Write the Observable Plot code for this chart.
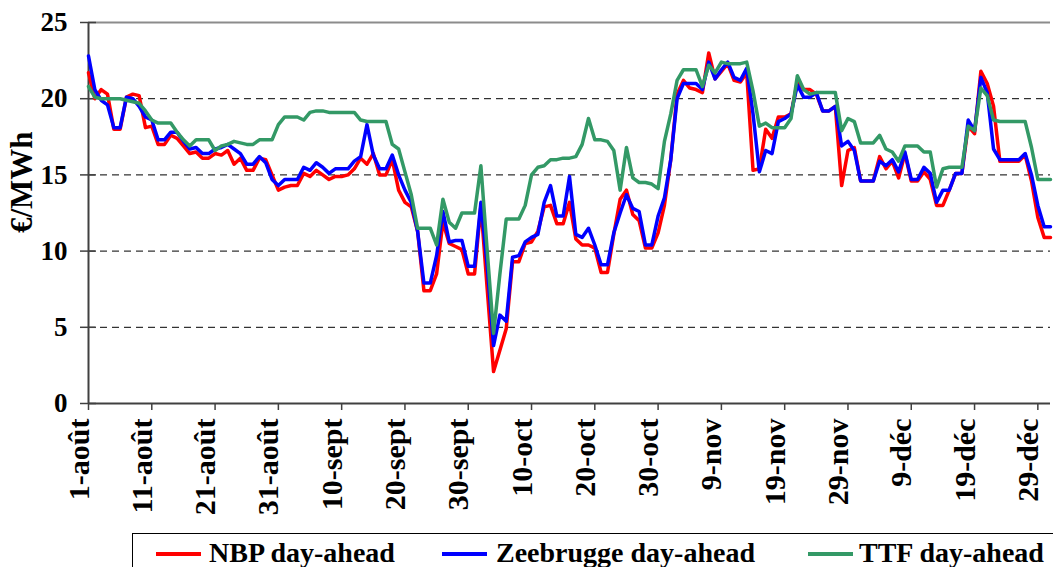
<!DOCTYPE html>
<html>
<head>
<meta charset="utf-8">
<script src="https://cdn.jsdelivr.net/npm/d3@7"></script>
<script src="https://cdn.jsdelivr.net/npm/@observablehq/plot@0.6"></script>
<style>
  html, body { margin: 0; padding: 0; background: #fff; overflow: hidden; }
  #wrap { position: relative; width: 1053px; height: 567px; overflow: hidden; }
  #legend { position: absolute; left: 132px; top: 533px; width: 960px; height: 70px;
            border: 1px solid #000; box-sizing: border-box;
            font-family: "Liberation Serif", "Times New Roman", serif; font-weight: bold; font-size: 28px; }
  #legend .sw { position: absolute; top: 18px; width: 45px; height: 4px; }
  #legend .lb { position: absolute; top: 5px; line-height: 28px; white-space: nowrap; color: #000; }
</style>
</head>
<body>
<div id="wrap">
  <div id="chart"></div>
  <div id="legend"></div>
</div>
<script>
// Series values (€/MWh), daily from 1 Aug 2006
const nbp = [
  21.7, 20.0, 20.6, 20.3, 18.0, 18.0, 20.1, 20.3, 20.2, 18.1,
  18.2, 17.0, 17.0, 17.6, 17.4, 16.9, 16.4, 16.5, 16.1, 16.1,
  16.4, 16.3, 16.6, 15.7, 16.1, 15.3, 15.3, 16.1, 16.0, 15.0,
  14.0, 14.2, 14.3, 14.3, 15.1, 14.9, 15.3, 15.0, 14.7, 14.9,
  14.9, 15.0, 15.4, 16.1, 15.7, 16.4, 15.0, 15.0, 16.0, 14.0,
  13.2, 12.9, 11.3, 7.4, 7.4, 8.5, 11.9, 10.5, 10.3, 10.1,
  8.5, 8.5, 13.0, 7.5, 2.1, 3.5, 4.9, 9.3, 9.3, 10.5,
  10.6, 11.3, 12.9, 13.0, 11.8, 11.8, 13.2, 10.8, 10.4, 10.4,
  10.2, 8.6, 8.6, 11.1, 13.4, 14.0, 12.4, 12.0, 10.2, 10.2,
  11.2, 13.0, 16.0, 20.3, 21.2, 20.7, 20.6, 20.4, 23.0, 21.3,
  21.8, 22.3, 21.2, 21.1, 21.7, 15.3, 15.4, 18.0, 17.4, 18.8,
  18.8, 19.0, 21.1, 20.6, 20.6, 20.3, 19.2, 19.2, 19.5, 14.3,
  16.6, 16.8, 14.6, 14.6, 14.6, 16.2, 15.4, 15.9, 14.8, 16.4,
  14.6, 14.6, 15.2, 14.7, 13.0, 13.0, 14.0, 15.1, 15.1, 18.2,
  17.7, 21.8, 21.0, 19.5, 15.9, 15.9, 15.9, 15.9, 16.3, 14.6,
  12.2, 10.9, 10.9
];
const zeebrugge = [
  22.8, 20.6, 19.9, 19.6, 18.1, 18.1, 20.1, 20.0, 19.5, 18.8,
  18.6, 17.3, 17.3, 17.8, 17.8, 17.2, 16.7, 16.8, 16.4, 16.4,
  16.7, 16.8, 17.0, 16.7, 16.4, 15.7, 15.7, 16.2, 15.8, 14.7,
  14.3, 14.7, 14.7, 14.7, 15.5, 15.3, 15.8, 15.5, 15.1, 15.4,
  15.4, 15.4, 15.9, 16.2, 18.3, 16.3, 15.4, 15.4, 16.3, 15.0,
  14.0, 13.2, 11.3, 7.9, 7.9, 9.7, 12.6, 10.6, 10.7, 10.7,
  9.0, 9.0, 13.2, 9.0, 3.8, 5.8, 5.4, 9.6, 9.7, 10.6,
  10.9, 11.1, 13.2, 14.3, 12.3, 12.3, 14.9, 11.1, 10.9, 11.5,
  10.4, 9.1, 9.1, 11.2, 12.5, 13.7, 12.8, 12.6, 10.4, 10.4,
  12.3, 13.5, 16.0, 20.0, 21.0, 21.0, 21.0, 20.6, 22.4, 21.3,
  21.9, 22.4, 21.4, 21.2, 22.0, 19.0, 15.2, 16.6, 16.4, 18.5,
  18.7, 19.0, 20.9, 20.1, 20.1, 20.4, 19.2, 19.2, 19.5, 16.9,
  17.2, 16.6, 14.6, 14.6, 14.6, 15.9, 15.6, 16.0, 15.2, 16.5,
  14.7, 14.7, 15.5, 15.1, 13.2, 14.0, 14.0, 15.1, 15.1, 18.6,
  17.9, 21.4, 20.4, 16.7, 16.0, 16.0, 16.0, 16.0, 16.4, 15.0,
  13.0, 11.6, 11.6
];
const ttf = [
  20.8, 20.1, 20.0, 20.0, 20.0, 20.0, 19.9, 19.8, 19.7, 19.2,
  18.6, 18.4, 18.4, 18.4, 17.8, 17.3, 16.9, 17.3, 17.3, 17.3,
  16.6, 16.9, 17.0, 17.2, 17.1, 17.0, 17.0, 17.3, 17.3, 17.3,
  18.3, 18.8, 18.8, 18.8, 18.6, 19.1, 19.2, 19.2, 19.1, 19.1,
  19.1, 19.1, 19.1, 18.6, 18.5, 18.5, 18.5, 18.5, 17.0, 16.7,
  15.2, 13.7, 11.5, 11.5, 11.5, 10.4, 13.4, 11.9, 11.5, 12.5,
  12.5, 12.5, 15.6, 10.0, 4.6, 8.5, 12.1, 12.1, 12.1, 13.0,
  15.0, 15.5, 15.6, 16.0, 16.0, 16.1, 16.1, 16.2, 17.0, 18.7,
  17.3, 17.3, 17.2, 16.6, 14.0, 16.8, 14.8, 14.5, 14.5, 14.4,
  14.1, 17.2, 19.0, 21.2, 21.9, 21.9, 21.9, 20.8, 22.2, 21.7,
  22.4, 22.3, 22.3, 22.3, 22.4, 20.5, 18.2, 18.4, 18.1, 18.1,
  18.1, 18.7, 21.5, 20.6, 20.3, 20.4, 20.4, 20.4, 20.4, 17.9,
  18.7, 18.5, 17.1, 17.1, 17.1, 17.6, 16.7, 16.5, 15.9, 16.9,
  16.9, 16.9, 16.5, 16.5, 14.2, 15.4, 15.5, 15.5, 15.5, 18.2,
  17.9, 20.7, 20.2, 18.6, 18.5, 18.5, 18.5, 18.5, 18.5, 16.8,
  14.7, 14.7, 14.7
];
const seriesNames = ["NBP day-ahead", "Zeebrugge day-ahead", "TTF day-ahead"];
const seriesColors = ["#ff0000", "#0000ff", "#339966"];
const xTickLabels = ["1-août","11-août","21-août","31-août","10-sept","20-sept","30-sept","10-oct",
                     "20-oct","30-oct","9-nov","19-nov","29-nov","9-déc","19-déc","29-déc"];
const xTickDayOffsets = [0,10,20,30,40,50,60,70,80,90,100,110,120,130,140,150];
const yTicks = [0, 5, 10, 15, 20, 25];
const yGrid = [5, 10, 15, 20];
const yLabel = "€/MWh";

const start = Date.UTC(2006, 7, 1);
const DAY = 864e5;
const dateAt = (i) => new Date(start + i * DAY);
const mk = (arr) => arr.map((v, i) => ({date: dateAt(i), value: v}));
const dNbp = mk(nbp), dZee = mk(zeebrugge), dTtf = mk(ttf);
const xTicks = xTickDayOffsets.map((o, i) => ({date: dateAt(o), label: xTickLabels[i]}));
const domain = [dateAt(0), dateAt(nbp.length - 1)];

const font = "Liberation Serif";
const chart = Plot.plot({
  width: 1053,
  height: 530,
  marginLeft: 88,
  marginRight: 3,
  marginTop: 22,
  marginBottom: 127,
  style: {background: "white", overflow: "visible"},
  x: {type: "utc", domain, axis: null},
  y: {domain: [0, 25], axis: null},
  marks: [
    Plot.ruleY(yGrid, {stroke: "black", strokeWidth: 1, strokeDasharray: "7,5"}),
    Plot.ruleY([25], {stroke: "#8c8c8c", strokeWidth: 2}),
    // y ticks (cross)
    Plot.axisY({ticks: yTicks, tickSize: 16, dx: 8, stroke: "#404040", strokeWidth: 1.5, tickFormat: () => "", label: null}),
    Plot.text(yTicks, {frameAnchor: "left", y: d => d, text: d => String(d), textAnchor: "end", dx: -21,
      fontSize: 27, fontWeight: "bold", fontFamily: font, fill: "black"}),
    // x ticks
    Plot.axisX({ticks: xTicks.map(t => t.date), tickSize: 7, stroke: "#404040", strokeWidth: 1.5, tickFormat: () => "", label: null}),
    Plot.text(xTicks, {x: "date", frameAnchor: "bottom", text: "label", rotate: -90, textAnchor: "end", dy: 15,
      fontSize: 30, fontWeight: "bold", fontFamily: font, fill: "black"}),
    // axis lines
    Plot.ruleX([domain[0]], {stroke: "#404040", strokeWidth: 2}),
    Plot.ruleY([0], {stroke: "#404040", strokeWidth: 2}),
    // y label
    Plot.text([yLabel], {frameAnchor: "left", dx: -66, dy: 20, rotate: -90,
      fontSize: 31, fontWeight: "bold", fontFamily: font, fill: "black"}),
    // series
    Plot.lineY(dNbp, {x: "date", y: "value", stroke: seriesColors[0], strokeWidth: 3.5, strokeLinejoin: "round"}),
    Plot.lineY(dZee, {x: "date", y: "value", stroke: seriesColors[1], strokeWidth: 3.5, strokeLinejoin: "round"}),
    Plot.lineY(dTtf, {x: "date", y: "value", stroke: seriesColors[2], strokeWidth: 3.5, strokeLinejoin: "round"})
  ]
});
document.getElementById("chart").appendChild(chart);

// legend
const legend = document.getElementById("legend");
const swatchLeft = [23, 309, 675];
const labelLeft = [76, 363, 726];
seriesNames.forEach((name, i) => {
  const sw = document.createElement("span");
  sw.className = "sw";
  sw.style.left = swatchLeft[i] + "px";
  sw.style.background = seriesColors[i];
  legend.appendChild(sw);
  const lb = document.createElement("span");
  lb.className = "lb";
  lb.style.left = labelLeft[i] + "px";
  lb.textContent = name;
  legend.appendChild(lb);
});
</script>
</body>
</html>
